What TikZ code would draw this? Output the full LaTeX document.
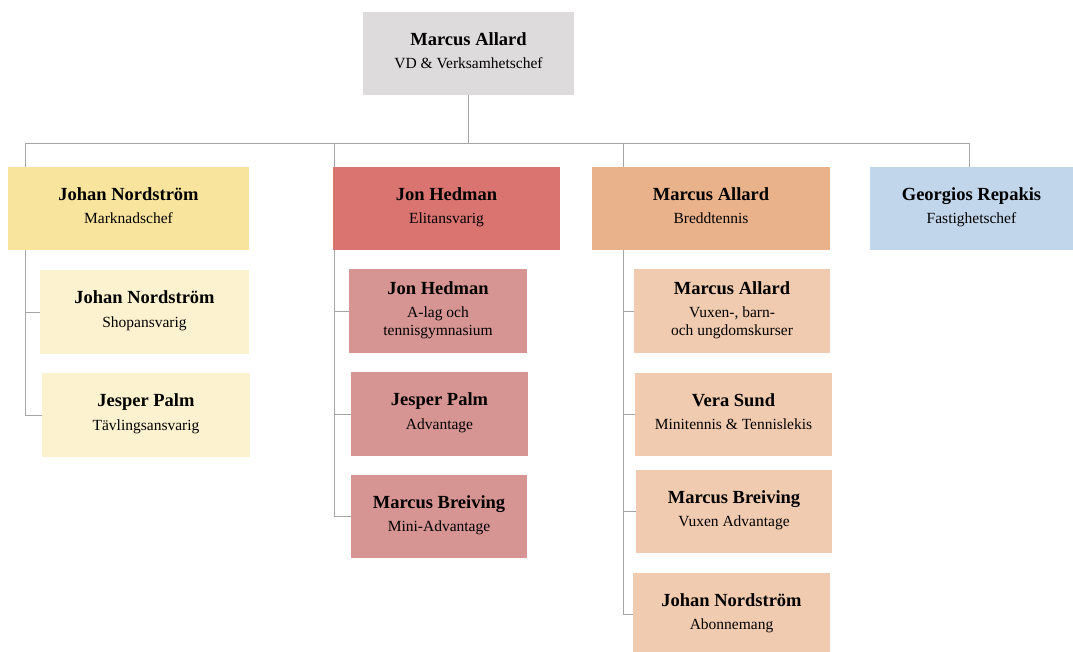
\documentclass[tikz,border=0pt]{standalone}
\usepackage{fontspec}
\setmainfont{Liberation Serif}

\definecolor{topgray}{HTML}{DDDBDC}
\definecolor{markyel}{HTML}{F9E49E}
\definecolor{markyellt}{HTML}{FDF2CF}
\definecolor{elitred}{HTML}{D97470}
\definecolor{elitredlt}{HTML}{D69593}
\definecolor{breddor}{HTML}{E9B28A}
\definecolor{breddorlt}{HTML}{F1CBAF}
\definecolor{fastblue}{HTML}{C2D6EB}
\definecolor{linegray}{HTML}{A5A5A5}

\tikzset{
  box/.style={fill=#1, inner sep=0pt, minimum height=83pt, align=center,
    font=\fontsize{15.5}{17.5}\selectfont},
  conn/.style={draw=linegray, line width=0.9pt},
}
\newcommand{\who}[2]{{\fontsize{18.5}{21}\selectfont\bfseries #1}\\[6pt]#2\\[-12pt]\mbox{}}

\begin{document}
\begin{tikzpicture}[x=1pt,y=1pt]
  \useasboundingbox (0,0) rectangle (1073,-652);

  %% bus coordinates
  \coordinate (d1) at ( 25,-143);
  \coordinate (d2) at (334,-143);
  \coordinate (d3) at (623,-143);
  \coordinate (d4) at (969,-143);

  %% top
  \node[box=topgray, minimum width=211pt] (vd) at (468.5,-53.5)
  {\who{Marcus Allard}{VD \& Verksamhetschef}};

  %% first level
  \node[box=markyel, minimum width=241pt] (mark) at (128.5,-208.5)
  {\who{Johan Nordström}{Marknadschef}};
  \node[box=elitred, minimum width=227pt] (elit) at (446.5,-208.5)
  {\who{Jon Hedman}{Elitansvarig}};
  \node[box=breddor, minimum width=238pt] (bredd) at (711,-208.5)
  {\who{Marcus Allard}{Breddtennis}};
  \node[box=fastblue, minimum width=203pt] (fast) at (971.5,-208.5)
  {\who{Georgios Repakis}{Fastighetschef}};

  %% under Marknadschef
  \node[box=markyellt, minimum width=209pt, minimum height=84pt] (shop) at (144.5,-312)
  {\who{Johan Nordström}{Shopansvarig}};
  \node[box=markyellt, minimum width=208pt, minimum height=84pt] (tavl) at (146,-415)
  {\who{Jesper Palm}{Tävlingsansvarig}};

  %% under Elitansvarig
  \node[box=elitredlt, minimum width=178pt, minimum height=84pt] (alag) at (438,-311)
  {\who{Jon Hedman}{A-lag och\\tennisgymnasium}};
  \node[box=elitredlt, minimum width=177pt, minimum height=84pt] (adv) at (439.5,-414)
  {\who{Jesper Palm}{Advantage}};
  \node[box=elitredlt, minimum width=176pt] (mini) at (439,-516.5)
  {\who{Marcus Breiving}{Mini-Advantage}};

  %% under Breddtennis
  \node[box=breddorlt, minimum width=196pt, minimum height=84pt] (vux) at (732,-311)
  {\who{Marcus Allard}{Vuxen-, barn-\\och ungdomskurser}};
  \node[box=breddorlt, minimum width=197pt] (vera) at (733.5,-414.5)
  {\who{Vera Sund}{Minitennis \& Tennislekis}};
  \node[box=breddorlt, minimum width=196pt] (vxadv) at (734,-511.5)
  {\who{Marcus Breiving}{Vuxen Advantage}};
  \node[box=breddorlt, minimum width=197pt] (abon) at (731.5,-614.5)
  {\who{Johan Nordström}{Abonnemang}};

  %% top to first level
  \draw[conn] (vd.south) -- (vd.south |- d1);
  \draw[conn] (d1) -- (d4);
  \draw[conn] (d1) -- (d1 |- mark.north);
  \draw[conn] (d2) -- (d2 |- elit.north);
  \draw[conn] (d3) -- (d3 |- bredd.north);
  \draw[conn] (d4) -- (d4 |- fast.north);

  %% first level to second
  \draw[conn] (d1 |- mark.south) |- (tavl.west);
  \draw[conn] (d1 |- shop.west) -- (shop.west);

  \draw[conn] (d2 |- elit.south) |- (mini.west);
  \draw[conn] (d2 |- alag.west) -- (alag.west);
  \draw[conn] (d2 |- adv.west) -- (adv.west);

  \draw[conn] (d3 |- bredd.south) |- (abon.west);
  \draw[conn] (d3 |- vux.west) -- (vux.west);
  \draw[conn] (d3 |- vera.west) -- (vera.west);
  \draw[conn] (d3 |- vxadv.west) -- (vxadv.west);

\end{tikzpicture}
\end{document}
